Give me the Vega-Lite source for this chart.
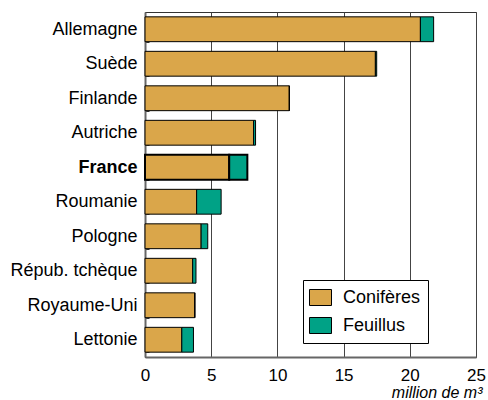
{
 "$schema": "https://vega.github.io/schema/vega-lite/v6.json",
 "width": 331,
 "height": 345,
 "autosize": "none",
 "padding": {"left": 145, "top": 12, "right": 12, "bottom": 43},
 "config": {"font": "Liberation Sans", "view": {"stroke": "#333", "strokeWidth": 1}},
 "data": {"values": [
  {"pays": "Allemagne", "essence": "Conifères", "ordre": 1, "volume": 20.8},
  {"pays": "Allemagne", "essence": "Feuillus", "ordre": 2, "volume": 1.0},
  {"pays": "Suède", "essence": "Conifères", "ordre": 1, "volume": 17.4},
  {"pays": "Suède", "essence": "Feuillus", "ordre": 2, "volume": 0.1},
  {"pays": "Finlande", "essence": "Conifères", "ordre": 1, "volume": 10.9},
  {"pays": "Finlande", "essence": "Feuillus", "ordre": 2, "volume": 0},
  {"pays": "Autriche", "essence": "Conifères", "ordre": 1, "volume": 8.2},
  {"pays": "Autriche", "essence": "Feuillus", "ordre": 2, "volume": 0.15},
  {"pays": "France", "essence": "Conifères", "ordre": 1, "volume": 6.36},
  {"pays": "France", "essence": "Feuillus", "ordre": 2, "volume": 1.37},
  {"pays": "Roumanie", "essence": "Conifères", "ordre": 1, "volume": 3.9},
  {"pays": "Roumanie", "essence": "Feuillus", "ordre": 2, "volume": 1.85},
  {"pays": "Pologne", "essence": "Conifères", "ordre": 1, "volume": 4.24},
  {"pays": "Pologne", "essence": "Feuillus", "ordre": 2, "volume": 0.5},
  {"pays": "Répub. tchèque", "essence": "Conifères", "ordre": 1, "volume": 3.6},
  {"pays": "Répub. tchèque", "essence": "Feuillus", "ordre": 2, "volume": 0.25},
  {"pays": "Royaume-Uni", "essence": "Conifères", "ordre": 1, "volume": 3.76},
  {"pays": "Royaume-Uni", "essence": "Feuillus", "ordre": 2, "volume": 0},
  {"pays": "Lettonie", "essence": "Conifères", "ordre": 1, "volume": 2.78},
  {"pays": "Lettonie", "essence": "Feuillus", "ordre": 2, "volume": 0.88}
 ]},
 "mark": {"type": "bar", "stroke": "black"},
 "encoding": {
  "y": {
   "field": "pays", "type": "nominal", "sort": null,
   "scale": {"paddingInner": 0.28, "paddingOuter": 0.14},
   "axis": {
    "title": null,
    "domainColor": "#666", "domainWidth": 2,
    "tickBand": "extent", "tickSize": -4, "tickColor": "#333",
    "labelFontSize": 18, "labelColor": "black", "labelPadding": 12,
    "labelFontWeight": {"condition": {"test": "datum.value === 'France'", "value": "bold"}, "value": "normal"}
   }
  },
  "x": {
   "field": "volume", "type": "quantitative", "stack": "zero",
   "scale": {"domain": [0, 25], "nice": false},
   "axis": {
    "title": "million de m³",
    "values": [0, 5, 10, 15, 20, 25],
    "grid": true, "gridColor": "#444", "gridWidth": 1,
    "ticks": false,
    "domainColor": "#666", "domainWidth": 2,
    "labelFontSize": 17, "labelColor": "black", "labelPadding": 10, "labelFlush": false,
    "titleFontStyle": "italic", "titleFontWeight": "normal", "titleFontSize": 16, "titleColor": "black",
    "titleAlign": "right", "titleAnchor": "end", "titleX": 337, "titleY": 40, "titleBaseline": "alphabetic"
   }
  },
  "color": {
   "field": "essence", "type": "nominal",
   "scale": {"domain": ["Conifères", "Feuillus"], "range": ["#DAA64A", "#00A286"]},
   "legend": {
    "title": null, "orient": "none", "legendX": 158, "legendY": 268,
    "fillColor": "white", "strokeColor": "black", "padding": 7,
    "symbolType": "M-1.1,-0.8H1.1V0.8H-1.1Z", "symbolSize": 400,
    "symbolStrokeColor": "black", "symbolStrokeWidth": 1,
    "labelFontSize": 18, "labelColor": "black", "labelOffset": 12, "rowPadding": 7
   }
  },
  "order": {"field": "ordre"},
  "strokeWidth": {"condition": {"test": "datum.pays === 'France'", "value": 2}, "value": 1}
 }
}
